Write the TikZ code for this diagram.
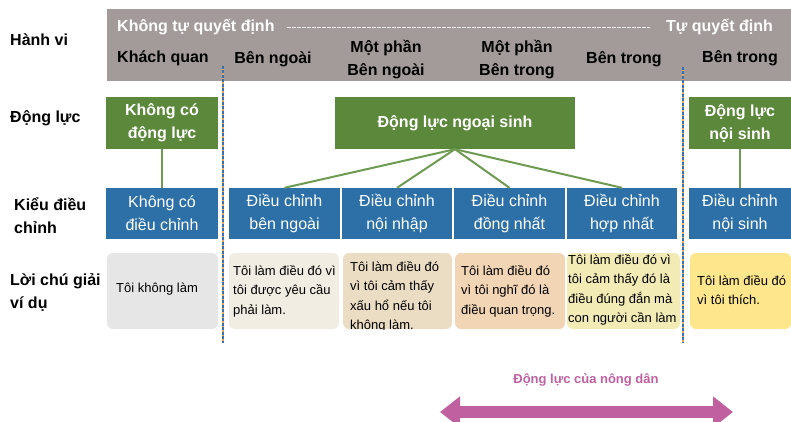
\documentclass[tikz,border=0pt]{standalone}
\usepackage{fontspec}
\setmainfont{Liberation Sans}
\usetikzlibrary{arrows.meta, positioning}

\definecolor{bandgray}{HTML}{A39B99}
\definecolor{motgreen}{HTML}{5B883A}
\definecolor{linegreen}{HTML}{6E9A52}
\definecolor{regblue}{HTML}{2C70A7}
\definecolor{sepblue}{HTML}{3A6FB0}
\definecolor{sepor}{HTML}{E8A65A}
\definecolor{magenta}{HTML}{C060A0}
\definecolor{notegray}{HTML}{E6E6E6}
\definecolor{notecream}{HTML}{F1EDE3}
\definecolor{notetan}{HTML}{EBDDC4}
\definecolor{notepeach}{HTML}{F1D5B5}
\definecolor{notepale}{HTML}{F2EBB6}
\definecolor{noteyel}{HTML}{FDE68C}

\tikzset{
  hdr/.style={font=\bfseries\fontsize{16}{23}\selectfont, align=center, inner sep=0pt},
  rowlbl/.style={font=\bfseries\fontsize{16}{23}\selectfont, align=left, anchor=west, inner sep=0pt},
  mot/.style={fill=motgreen, text=white, font=\bfseries\fontsize{16}{23}\selectfont, align=center,
    minimum height=52pt, inner sep=0pt},
  reg/.style={fill=regblue, text=white, font=\fontsize{16}{23}\selectfont, align=center,
    minimum height=51pt, inner sep=0pt},
  notebox/.style={rounded corners=6pt, minimum height=76pt, inner sep=0pt},
  notetext/.style={font=\fontsize{13}{19.5}\selectfont, align=left, anchor=west, inner sep=0pt},
  conn/.style={draw=linegreen, line width=2pt},
  sep/.style={draw=sepblue, line width=1.3pt, dash pattern=on 3pt off 1.5pt,
    preaction={draw=sepor, line width=1.3pt}},
  bigarrow/.style={draw=magenta, line width=12pt,
    {Triangle[length=20pt,width=30pt]}-{Triangle[length=20pt,width=30pt]}}
}

\begin{document}
\begin{tikzpicture}[x=1pt, y=-1pt]
  \useasboundingbox (0,0) rectangle (791,422);

  % band
  \node[fill=bandgray, minimum width=684pt, minimum height=72pt, inner sep=0pt] (band) at (449,45) {};
  \node[hdr, text=white, anchor=west] (kotu) at (117,27) {Không tự quyết định};
  \node[hdr, text=white, anchor=east] (tu) at (773,27) {Tự quyết định};
  \draw[white!85!bandgray, line width=0.8pt, dash pattern=on 4pt off 1pt]
    ([xshift=12pt]kotu.east) -- ([xshift=-16pt]tu.west);
  \node[hdr] (kq) at (163,58) {Khách quan};
  \node[hdr] (bn) at (273,59) {Bên ngoài};
  \node[hdr] (mpbn) at (386,60) {Một phần\\Bên ngoài};
  \node[hdr] (mpbt) at (517,60) {Một phần\\Bên trong};
  \node[hdr] (bt) at (624,59) {Bên trong};
  \node[hdr] (bt2) at (740,58) {Bên trong};

  % row labels
  \node[rowlbl] (hv) at (10,40) {Hành vi};
  \node[rowlbl] (dl) at (10,118) {Động lực};
  \node[rowlbl] (kdc) at (14,216) {Kiểu điều\\chỉnh};
  \node[rowlbl] (lcg) at (10,292) {Lời chú giải\\ví dụ};

  % motivation
  \node[mot, minimum width=112pt] (kdl) at (162,123) {Không có\\động lực};
  \node[mot, minimum width=240pt] (ngoai) at (455,123) {Động lực ngoại sinh};
  \node[mot, minimum width=102pt] (noi) at (740,123) {Động lực\\nội sinh};

  % regulation
  \node[reg, minimum width=112pt] (r1) at (162,213.5) {Không có\\điều chỉnh};
  \node[reg, minimum width=111pt] (r2) at (284.5,213.5) {Điều chỉnh\\bên ngoài};
  \node[reg, minimum width=110pt] (r3) at (397,213.5) {Điều chỉnh\\nội nhập};
  \node[reg, minimum width=111pt] (r4) at (509.5,213.5) {Điều chỉnh\\đồng nhất};
  \node[reg, minimum width=110pt] (r5) at (622,213.5) {Điều chỉnh\\hợp nhất};
  \node[reg, minimum width=102pt] (r6) at (740,213.5) {Điều chỉnh\\nội sinh};

  \draw[conn] (kdl) -- (r1);
  \foreach \r in {r2,r3,r4,r5}
    \draw[conn] (ngoai.south) -- (\r.north);
  \draw[conn] (noi) -- (r6);

  % examples
  \node[notebox, fill=notegray, minimum width=111pt] (e1) at (162.5,291) {};
  \node[notebox, fill=notecream, minimum width=110pt] (e2) at (284,291) {};
  \node[notebox, fill=notetan, minimum width=109pt] (e3) at (397.5,291) {};
  \node[notebox, fill=notepeach, minimum width=110pt] (e4) at (510,291) {};
  \node[notebox, fill=notepale, minimum width=113pt] (e5) at (623.5,291) {};
  \node[notebox, fill=noteyel, minimum width=101pt] (e6) at (740.5,291) {};

  \node[notetext] (x1) at (116,289) {Tôi không làm};
  \node[notetext] (x2) at (233,291) {Tôi làm điều đó vì\\tôi được yêu cầu\\phải làm.};
  \begin{scope}
    \clip[rounded corners=6pt] (e3.north west) rectangle (e3.south east);
    \node[notetext] (x3) at (350,297) {Tôi làm điều đó\\vì tôi cảm thấy\\xấu hổ nếu tôi\\không làm.};
  \end{scope}
  \node[notetext] (x4) at (461,291) {Tôi làm điều đó\\vì tôi nghĩ đó là\\điều quan trọng.};
  \node[notetext] (x5) at (568,290) {Tôi làm điều đó vì\\tôi cảm thấy đó là\\điều đúng đắn mà\\con người cần làm};
  \node[notetext] (x6) at (697,290) {Tôi làm điều đó\\vì tôi thích.};

  % separators
  \draw[sep] (223,66) -- (223,343);
  \draw[sep] (683,67) -- (683,343);

  % farmer motivation
  \node[font=\bfseries\fontsize{13}{15}\selectfont, text=magenta] (dlnd) at (586,380) {Động lực của nông dân};
  \coordinate (aL) at (440,412);
  \coordinate (aR) at (733,412);
  \draw[bigarrow] (aL) -- (aR);
\end{tikzpicture}
\end{document}
